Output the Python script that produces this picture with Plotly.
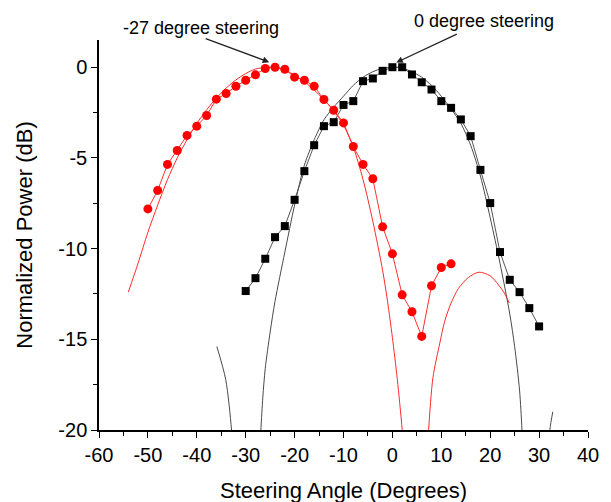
import plotly.graph_objects as go

# Measured data: 0 degree steering (black squares)
black_x = list(range(-30, 31, 2))
black_y = [-12.34, -11.63, -10.56, -9.37, -8.76, -7.31, -5.73, -4.30, -3.25, -3.03,
           -2.08, -1.87, -0.77, -0.62, -0.20, 0.0, 0.0, -0.40, -0.83, -1.23,
           -1.87, -2.24, -2.88, -3.80, -5.66, -7.49, -10.19, -11.72, -12.40, -13.28, -14.29]

# Measured data: -27 degree steering (red circles)
red_x = list(range(-50, 13, 2))
red_y = [-7.81, -6.79, -5.36, -4.59, -3.76, -3.25, -2.66, -1.76, -1.45, -1.05,
         -0.72, -0.42, -0.07, 0.0, -0.11, -0.55, -0.72, -1.05, -1.78, -2.37,
         -3.07, -4.37, -5.36, -6.15, -8.80, -10.29, -12.55, -13.48, -14.84, -12.05,
         -11.04, -10.84]

# Theoretical curve, 0 degree steering
bt_main_x = [-27.5, -26.9, -26.5, -26, -25, -24, -22, -20, -18, -16, -14, -12, -10, -8, -6, -4, -2, 0,
             2, 4, 6, 8, 10, 12, 14, 16, 18, 20, 22, 24, 25, 26, 26.5, 27.1]
bt_main_y = [-23, -20, -18.2, -16.6, -14.6, -12.9, -10.2, -7.6, -5.4, -4.0, -2.9, -2.2, -1.6, -1.0, -0.55, -0.25, -0.06, 0,
             -0.06, -0.25, -0.55, -1.0, -1.6, -2.3, -3.1, -4.3, -6.0, -8.3, -10.8, -13.6, -15.4, -17.8, -20, -24]
bt_left_x = [-35.9, -34.1, -32.9, -32.4]
bt_left_y = [-15.4, -17.2, -20.0, -22.5]
bt_right_x = [31.9, 32.2, 32.8]
bt_right_y = [-22.5, -20.0, -19.0]

# Theoretical curve, -27 degree steering
rt_main_x = [-54, -52, -50, -48, -46, -44, -42, -40, -38, -36, -34, -32, -30, -28, -26, -25, -24, -22,
             -20, -18, -16, -14, -12, -10, -8, -6, -4, -2, -1, 0, 1, 2, 3]
rt_main_y = [-12.4, -10.8, -9.1, -7.6, -6.2, -5.0, -4.0, -3.1, -2.35, -1.7, -1.15, -0.7, -0.35, -0.1, -0.01, 0, -0.02, -0.15,
             -0.45, -0.8, -1.25, -1.8, -2.4, -3.2, -4.4, -6.2, -8.5, -11.2, -12.9, -14.9, -17.2, -20.0, -24.0]
rt_side_x = [5.8, 6.5, 7.4, 8.3, 9.7, 10.7, 12, 13.5, 15.5, 17.7, 20, 21.7, 23, 23.9]
rt_side_y = [-30, -24, -20, -17.1, -15.2, -14.0, -13.0, -12.2, -11.6, -11.3, -11.5, -12.0, -12.5, -13.0]

x_ticks = [-60, -50, -40, -30, -20, -10, 0, 10, 20, 30, 40]
y_ticks = [0, -5, -10, -15, -20]

FONT = "Liberation Sans, Arial, sans-serif"
BLACK_T = "#4a4a4a"
RED_T = "#ff2a2a"

fig = go.Figure()

for xs, ys in [(bt_main_x, bt_main_y), (bt_left_x, bt_left_y), (bt_right_x, bt_right_y)]:
    fig.add_trace(go.Scatter(x=xs, y=ys, mode="lines", line=dict(color=BLACK_T, width=1, shape="spline", smoothing=0.8),
                             showlegend=False, hoverinfo="skip"))
for xs, ys in [(rt_main_x, rt_main_y), (rt_side_x, rt_side_y)]:
    fig.add_trace(go.Scatter(x=xs, y=ys, mode="lines", line=dict(color=RED_T, width=1, shape="spline", smoothing=0.8),
                             showlegend=False, hoverinfo="skip"))

fig.add_trace(go.Scatter(x=black_x, y=black_y, mode="lines+markers",
                         line=dict(color="#555555", width=1),
                         marker=dict(symbol="square", size=8, color="black"),
                         name="0 degree steering", showlegend=False))
fig.add_trace(go.Scatter(x=red_x, y=red_y, mode="lines+markers",
                         line=dict(color="#ff3030", width=1),
                         marker=dict(symbol="circle", size=9, color="#ff0000"),
                         name="-27 degree steering", showlegend=False))

# Arrows
fig.add_annotation(x=-25.2, y=0.28, xref="x", yref="y", text="", showarrow=True,
                   ax=-65, ay=-24, arrowhead=2, arrowsize=1, arrowwidth=1.3, arrowcolor="#222")
fig.add_annotation(x=0.8, y=0.26, xref="x", yref="y", text="", showarrow=True,
                   ax=62, ay=-29, arrowhead=2, arrowsize=1, arrowwidth=1.3, arrowcolor="#222")
# Labels
fig.add_annotation(x=0.2096, y=1.031, xref="paper", yref="paper", text="-27 degree steering",
                   showarrow=False, xanchor="center", yanchor="middle",
                   font=dict(family=FONT, size=18, color="black"))
fig.add_annotation(x=0.7873, y=1.048, xref="paper", yref="paper", text="0 degree steering",
                   showarrow=False, xanchor="center", yanchor="middle",
                   font=dict(family=FONT, size=18, color="black"))

fig.update_layout(
    width=611, height=502,
    margin=dict(l=91, r=31, t=32, b=80),
    paper_bgcolor="white", plot_bgcolor="white",
    font=dict(family=FONT, color="black"),
    xaxis=dict(range=[-60, 40], tickvals=x_ticks, ticktext=[str(v) for v in x_ticks],
               showgrid=False, zeroline=False, showline=True, linecolor="black", linewidth=1.5,
               ticks="outside", ticklen=6, tickwidth=1.3, tickcolor="black",
               minor=dict(dtick=5, tick0=-55, ticks="outside", ticklen=4, tickwidth=1.2, tickcolor="black"),
               tickfont=dict(size=20, family=FONT),
               title=dict(text="Steering Angle (Degrees)", font=dict(size=22, family=FONT), standoff=18)),
    yaxis=dict(range=[-20, 1.5], tickvals=y_ticks, ticktext=[str(v) for v in y_ticks],
               showgrid=False, zeroline=False, showline=True, linecolor="black", linewidth=1.5,
               ticks="outside", ticklen=6, tickwidth=1.3, tickcolor="black",
               minor=dict(dtick=2.5, tick0=-17.5, ticks="outside", ticklen=4, tickwidth=1.2, tickcolor="black"),
               tickfont=dict(size=20, family=FONT),
               title=dict(text="Normalized Power (dB)", font=dict(size=22, family=FONT), standoff=20)),
)

fig.write_html("out.html")
